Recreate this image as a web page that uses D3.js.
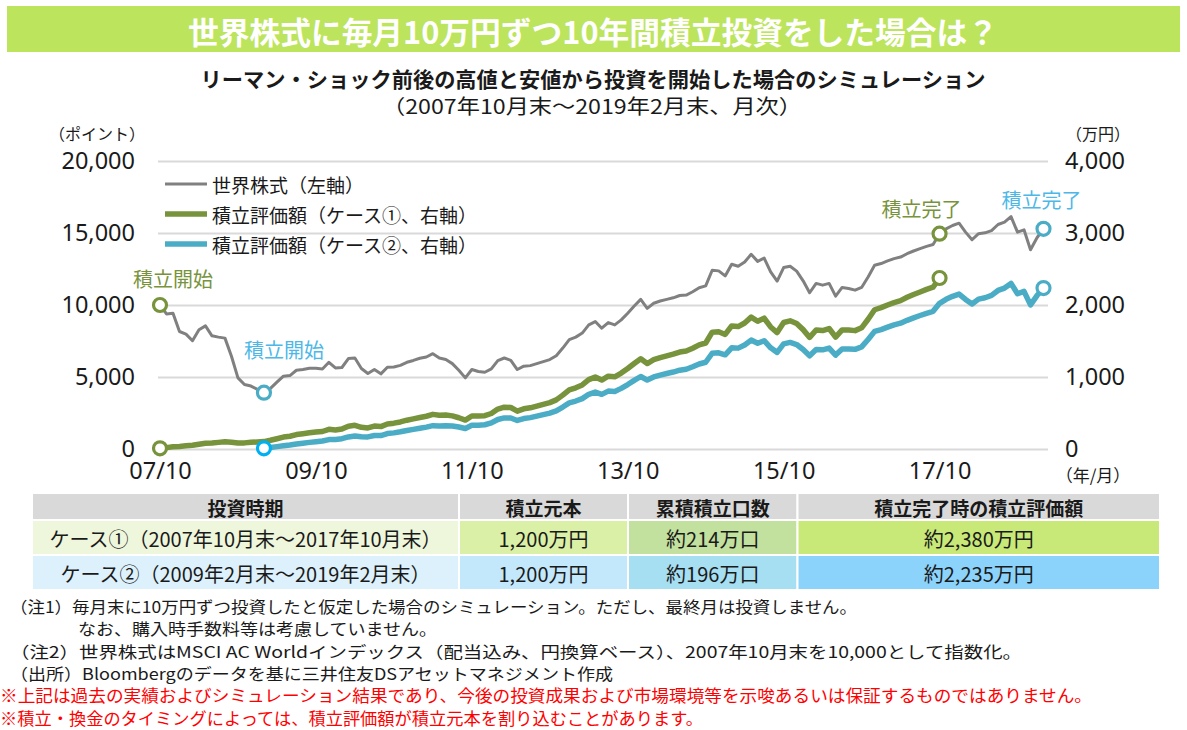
<!DOCTYPE html>
<html lang="ja">
<head>
<meta charset="utf-8">
<script src="https://cdn.jsdelivr.net/npm/d3@7"></script>
<style>
  html, body { margin: 0; padding: 0; background: #fff; }
  svg { display: block; font-family: "Noto Sans CJK JP", "Noto Sans", sans-serif; }
</style>
</head>
<body>
<div id="chart"></div>
<script>
// ---- データ（月末値、2007年10月＝0） ----
const worldIndex = [
  10000, 9380, 9430, 8160, 7980, 7520, 8280, 8550, 7860, 7770,
  7700, 6440, 4940, 4480, 4370, 4140, 3910, 4210, 4640, 5060,
  5100, 5470, 5520, 5610, 5610, 5560, 6020, 5630, 5660, 6280,
  6320, 5590, 5240, 5520, 5220, 5680, 5700, 5810, 6020, 6150,
  6300, 6390, 6620, 6320, 6210, 5930, 5470, 4940, 5520, 5380,
  5330, 5560, 6140, 6320, 6160, 5520, 5750, 5790, 5930, 6070,
  6210, 6480, 7010, 7590, 7770, 8050, 8620, 8850, 8390, 8780,
  8620, 8970, 9430, 9930, 10390, 9770, 10120, 10280, 10390, 10500,
  10660, 10690, 10920, 11200, 11330, 12410, 12370, 12020, 12830, 12690,
  12990, 13520, 13030, 13260, 12300, 11660, 12600, 12690, 12350, 11680,
  10850, 11500, 11380, 11500, 10620, 11220, 11150, 11030, 11220, 11950,
  12760, 12880, 13060, 13220, 13330, 13560, 13750, 13910, 14070, 14200,
  14950, 15290, 15520, 15680, 15060, 14530, 14950, 15010, 15170, 15590,
  15750, 16140, 15060, 15220, 13840, 14670, 15290
];

// ケース①：2007年10月末～2017年10月末（万円）
const case1Start = 0;
const case1Value = [
  10, 19, 30, 36, 45, 52, 67, 80, 83, 92,
  101, 95, 83, 85, 93, 98, 103, 121, 143, 166,
  177, 200, 212, 225, 235, 243, 273, 265, 277, 317,
  329, 301, 292, 318, 311, 348, 359, 376, 400, 418,
  438, 455, 481, 469, 471, 460, 434, 402, 459, 458,
  463, 493, 555, 581, 576, 526, 558, 572, 596, 620,
  644, 682, 748, 820, 850, 890, 963, 999, 957, 1011,
  1003, 1054, 1118, 1187, 1252, 1187, 1240, 1269, 1293, 1317,
  1347, 1361, 1400, 1446, 1472, 1623, 1628, 1591, 1709, 1700,
  1750, 1832, 1775, 1817, 1695, 1617, 1757, 1780, 1742, 1658,
  1550, 1653, 1645, 1673, 1555, 1653, 1652, 1644, 1683, 1802,
  1934, 1963, 2000, 2034, 2061, 2107, 2146, 2181, 2217, 2247,
  2375
];

// ケース②：2009年2月末～2019年2月末（万円）
const case2Start = 16;
const case2Value = [
  10, 21, 33, 46, 56, 70, 81, 92, 102, 111,
  131, 132, 143, 168, 180, 169, 168, 187, 187, 214,
  224, 239, 257, 273, 289, 304, 324, 320, 324, 320,
  305, 285, 329, 330, 337, 362, 410, 432, 431, 396,
  423, 436, 456, 477, 498, 530, 583, 641, 666, 700,
  760, 790, 759, 804, 800, 842, 895, 953, 1007, 957,
  1001, 1027, 1048, 1069, 1095, 1108, 1142, 1181, 1205, 1330,
  1336, 1308, 1406, 1401, 1444, 1513, 1468, 1504, 1405, 1342,
  1460, 1480, 1451, 1382, 1294, 1381, 1377, 1401, 1304, 1388,
  1389, 1384, 1418, 1521, 1634, 1659, 1692, 1723, 1747, 1787,
  1822, 1854, 1885, 1912, 2023, 2079, 2121, 2152, 2077, 2014,
  2082, 2101, 2133, 2202, 2235, 2300, 2156, 2189, 2001, 2131,
  2235
];

const xTickMonths = [0, 24, 48, 72, 96, 120];
const xTickLabels = ["07/10", "09/10", "11/10", "13/10", "15/10", "17/10"];
const leftTicks = [0, 5000, 10000, 15000, 20000];
const rightTicks = [0, 1000, 2000, 3000, 4000];

const legendItems = ["世界株式（左軸）", "積立評価額（ケース①、右軸）", "積立評価額（ケース②、右軸）"];

const tableHeader = ["投資時期", "積立元本", "累積積立口数", "積立完了時の積立評価額"];
const tableRows = [
  ["ケース①（2007年10月末～2017年10月末）", "1,200万円", "約214万口", "約2,380万円"],
  ["ケース②（2009年2月末～2019年2月末）", "1,200万円", "約196万口", "約2,235万円"]
];

const notes = [
  "（注1）毎月末に10万円ずつ投資したと仮定した場合のシミュレーション。ただし、最終月は投資しません。",
  "なお、購入時手数料等は考慮していません。",
  "（注2）世界株式はMSCI AC Worldインデックス（配当込み、円換算ベース）、2007年10月末を10,000として指数化。",
  "（出所）Bloombergのデータを基に三井住友DSアセットマネジメント作成"
];
const warnings = [
  "※上記は過去の実績およびシミュレーション結果であり、今後の投資成果および市場環境等を示唆あるいは保証するものではありません。",
  "※積立・換金のタイミングによっては、積立評価額が積立元本を割り込むことがあります。"
];

// ---- スタイル ----
const W = 1187, H = 730;
const GRAY = "#808080", GREEN = "#77933c", BLUE = "#4bacc6", BLUE_START = "#00b0f0", BLUE_TEXT = "#4db8e8";
const TEXT = "#1a1a1a";

const svg = d3.select("#chart").append("svg")
  .attr("width", W).attr("height", H)
  .attr("viewBox", `0 0 ${W} ${H}`);

function label(x, y, txt, opt = {}) {
  const t = svg.append("text")
    .attr("x", x).attr("y", y)
    .attr("dominant-baseline", "central")
    .attr("text-anchor", opt.anchor || "middle")
    .attr("font-size", opt.size || 18)
    .attr("font-weight", opt.weight || "normal")
    .attr("fill", opt.fill || TEXT)
    .text(txt);
  if (opt.len) t.attr("textLength", opt.len).attr("lengthAdjust", "spacingAndGlyphs");
  return t;
}

// タイトル帯
svg.append("rect").attr("x", 7).attr("y", 6).attr("width", 1173).attr("height", 46).attr("fill", "#bce45c");
label(593, 30, "世界株式に毎月10万円ずつ10年間積立投資をした場合は？", { size: 31, weight: "bold", fill: "#fff", len: 810 });
label(593, 78, "リーマン・ショック前後の高値と安値から投資を開始した場合のシミュレーション", { size: 21, weight: "bold", len: 785 });
label(592, 105, "（2007年10月末～2019年2月末、月次）", { size: 20, len: 420 });

// ---- スケール ----
const plotLeft = 158, plotRight = 1048;
const x = d3.scaleLinear().domain([0, 136]).range([160, 1043.5]);
const yL = d3.scaleLinear().domain([0, 20000]).range([449, 161]);
const yR = d3.scaleLinear().domain([0, 4000]).range([449, 161]);

// グリッド
svg.append("g")
  .attr("transform", `translate(${plotLeft},0)`)
  .call(d3.axisLeft(yL).tickValues(leftTicks).tickSize(-(plotRight - plotLeft)).tickFormat(""))
  .call(g => g.select(".domain").remove())
  .call(g => g.selectAll("line").attr("stroke", "#d9d9d9").attr("stroke-width", 2));

// 左軸
svg.append("g")
  .attr("transform", `translate(${plotLeft},0)`)
  .call(d3.axisLeft(yL).tickValues(leftTicks).tickSize(0).tickPadding(23).tickFormat(d3.format(",")))
  .call(g => g.select(".domain").remove())
  .call(g => g.selectAll("text").attr("font-size", 23.5).attr("fill", TEXT).attr("font-family", "'Noto Sans', sans-serif"));

// 右軸
svg.append("g")
  .attr("transform", `translate(${plotRight},0)`)
  .call(d3.axisRight(yR).tickValues(rightTicks).tickSize(0).tickPadding(17).tickFormat(d3.format(",")))
  .call(g => g.select(".domain").remove())
  .call(g => g.selectAll("text").attr("font-size", 23.5).attr("fill", TEXT).attr("font-family", "'Noto Sans', sans-serif"));

// 横軸
svg.append("g")
  .attr("transform", `translate(0,449)`)
  .call(d3.axisBottom(x).tickValues(xTickMonths).tickSize(0).tickPadding(13).tickFormat((d, i) => xTickLabels[i]))
  .call(g => g.select(".domain").remove())
  .call(g => g.selectAll("text").attr("font-size", 23.5).attr("fill", TEXT).attr("font-family", "'Noto Sans', sans-serif"));

label(97, 133, "（ポイント）", { size: 16 });
label(1098, 133, "（万円）", { size: 16 });
label(1093, 474, "（年/月）", { size: 17 });

// ---- 折れ線 ----
const lineL = d3.line().x((d, i) => x(i)).y(d => yL(d));
const lineR = start => d3.line().x((d, i) => x(start + i)).y(d => yR(d));

svg.append("path").datum(worldIndex).attr("d", lineL)
  .attr("fill", "none").attr("stroke", GRAY).attr("stroke-width", 3).attr("stroke-linejoin", "round");
svg.append("path").datum(case2Value).attr("d", lineR(case2Start))
  .attr("fill", "none").attr("stroke", BLUE).attr("stroke-width", 5.5).attr("stroke-linejoin", "round");
svg.append("path").datum(case1Value).attr("d", lineR(case1Start))
  .attr("fill", "none").attr("stroke", GREEN).attr("stroke-width", 5.5).attr("stroke-linejoin", "round");

// ---- 開始・完了マーカー ----
const c1End = case1Start + case1Value.length - 1;
const c2End = case2Start + case2Value.length - 1;
const markers = [
  { cx: x(case1Start), cy: yL(worldIndex[case1Start]), color: GREEN },
  { cx: x(case1Start), cy: yR(case1Value[0]), color: GREEN },
  { cx: x(case2Start), cy: yL(worldIndex[case2Start]), color: BLUE },
  { cx: x(case2Start), cy: yR(case2Value[0]), color: BLUE_START },
  { cx: x(c1End), cy: yL(worldIndex[c1End]), color: GREEN },
  { cx: x(c1End), cy: yR(case1Value[case1Value.length - 1]), color: GREEN },
  { cx: x(c2End), cy: yL(worldIndex[c2End]), color: BLUE },
  { cx: x(c2End), cy: yR(case2Value[case2Value.length - 1]), color: BLUE }
];
svg.selectAll("circle.marker").data(markers).enter().append("circle")
  .attr("class", "marker")
  .attr("cx", d => d.cx).attr("cy", d => d.cy).attr("r", 6.5)
  .attr("fill", "#fff").attr("stroke", d => d.color).attr("stroke-width", 3.2);

label(x(case1Start) + 13, yL(worldIndex[case1Start]) - 27, "積立開始", { size: 20, fill: GREEN });
label(x(case2Start) + 20, yL(worldIndex[case2Start]) - 43, "積立開始", { size: 20, fill: BLUE_TEXT });
label(x(c1End) - 18, yL(worldIndex[c1End]) - 25, "積立完了", { size: 20, fill: GREEN });
label(x(c2End) - 2, yL(worldIndex[c2End]) - 29, "積立完了", { size: 20, fill: BLUE_TEXT });

// ---- 凡例 ----
const legendColors = [GRAY, GREEN, BLUE];
const legendWidths = [3, 5.5, 5.5];
legendItems.forEach((txt, i) => {
  const ly = 184 + i * 30;
  svg.append("line").attr("x1", 165).attr("x2", 207).attr("y1", ly).attr("y2", ly)
    .attr("stroke", legendColors[i]).attr("stroke-width", legendWidths[i]);
  label(212, ly, txt, { size: 19, anchor: "start" });
});

// ---- 表 ----
const colX = [32, 459, 628, 797.5, 1160];
const rowY = [493, 520, 555, 590];
const cellFill = [
  ["#d9d9d9", "#d9d9d9", "#d9d9d9", "#d9d9d9"],
  ["#eef6dc", "#daf0a6", "#c2e09e", "#c8e878"],
  ["#ddf1fc", "#c3e8fc", "#a6def2", "#8cd3fc"]
];
const tableText = [tableHeader, ...tableRows];
tableText.forEach((row, r) => {
  row.forEach((txt, c) => {
    svg.append("rect")
      .attr("x", colX[c]).attr("y", rowY[r])
      .attr("width", colX[c + 1] - colX[c]).attr("height", rowY[r + 1] - rowY[r])
      .attr("fill", cellFill[r][c]).attr("stroke", "#fff").attr("stroke-width", 2);
    label((colX[c] + colX[c + 1]) / 2, (rowY[r] + rowY[r + 1]) / 2 + 1, txt,
      { size: r === 0 ? 19 : 20, weight: r === 0 ? "bold" : "normal" });
  });
});

// ---- 注記 ----
const noteX = [10, 78, 10, 10];
const noteY = [606, 628, 651, 673];
const noteLen = [847, 359, 1012, 603];
notes.forEach((txt, i) => label(noteX[i], noteY[i], txt, { size: 16, anchor: "start", len: noteLen[i] }));
const warnY = [695, 718];
const warnLen = [1092, 703];
warnings.forEach((txt, i) => label(0, warnY[i], txt, { size: 16.5, anchor: "start", fill: "#ff0000", len: warnLen[i] }));
</script>
</body>
</html>
